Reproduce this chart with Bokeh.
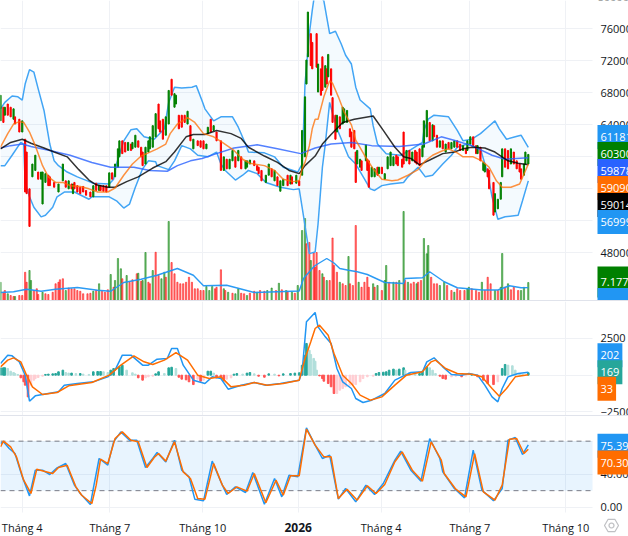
import math
from bokeh.embed import file_html
from bokeh.layouts import column
from bokeh.models import FixedTicker, Label, Range1d, BoxAnnotation, Spacer, PolyAnnotation
from bokeh.plotting import figure
from bokeh.resources import INLINE

# All prices below are in hundreds of VND; x values are trading-session numbers.
candle_session = [0,2,3,5,7,9,10,13,15,17,18,20,22,24,26,28,29,31,33,34,37,40,43,45,47,49,50,51,53,55,57,59,62,64,66,68,69,71,73,75,77,79,81,82,84,86,88,90,91,93,95,97,98,100,102,103,105,107,109,110,112,114,116,118,120,121,123,125,127,129,131,133,136,138,140,142,143,145,147,149,152,154,156,158,160,162,164,166,169,170,172,175,177,178,180,183,185,187,189,191,193,195,198,200,201,204,206,208,210,211,212,214,215,
    218,219,221,222,224,225,226,228,229,231,232,234,236,237,239,241,242,244,245,246,248,249,252,253,254,256,258,260,261,263,265,267,269,271,273,274,277,278,280,282,284,286,287,289,291,292,294,296,298,299,301,303,305,307,309,311,313,315,317,319,321,322,324,326,328,329,331,333,334,336,337,340,341,343,345,346,348,350,352,354,356,358,359,361,362,364]
candle_open = [645,662,652,666,662,647,650,647,631,622,606,560,575,583,581,572,541,568,577,575,568,556,570,570,560,566,554,568,564,562,563,558,556,550,567,558,564,564,564,562,580,575,587,600,620,618,608,616,610,612,620,612,606,591,606,610,612,625,666,645,647,627,641,697,662,666,652,652,652,641,639,610,620,620,620,610,629,647,633,631,620,583,597,585,595,600,595,600,585,587,591,595,589,587,583,568,577,585,570,575,557,564,577,566,575,567,570,577,600,691,725,754,743,
    754,681,710,725,687,710,700,710,674,652,631,650,641,643,643,635,631,633,606,591,587,595,595,597,595,575,575,587,579,587,572,585,589,589,602,600,597,631,595,608,595,608,606,610,600,612,625,643,620,639,627,612,620,606,618,610,612,620,616,608,610,608,616,625,614,604,612,583,581,585,583,568,531,535,547,575,610,608,591,606,595,591,585,577,591,591]
candle_close = [677,643,662,652,650,660,641,631,645,556,554,513,591,602,572,581,581,579,564,564,562,566,591,562,570,560,566,560,556,554,556,552,550,564,558,564,558,557,556,580,572,591,610,620,604,606,618,608,618,627,612,600,589,612,620,625,639,654,635,631,622,650,683,677,679,677,635,637,643,657,620,622,614,612,610,616,637,631,639,620,583,600,585,597,608,587,608,585,595,595,596,589,583,579,570,577,591,575,583,564,570,572,564,577,566,577,564,633,675,721,781,714,710,
    712,716,677,683,714,691,728,677,643,622,652,635,662,660,658,625,612,610,568,608,597,583,615,583,562,587,585,577,587,579,579,600,606,600,591,589,587,591,608,591,606,593,591,589,614,645,658,620,640,625,612,620,610,616,610,618,620,612,608,614,604,620,625,614,604,614,595,593,591,575,560,527,554,547,568,610,587,585,610,591,585,581,572,591,606,603]

volume_session = [0,2,3,5,7,9,10,13,15,17,18,20,21,23,25,26,29,31,33,36,38,40,41,43,45,47,49,51,53,55,57,60,62,64,66,68,70,72,74,76,78,79,81,83,84,87,89,91,94,95,97,98,100,102,103,105,107,109,111,113,114,116,118,120,122,124,126,128,130,132,134,136,138,140,142,144,146,148,149,152,154,155,157,160,162,164,166,168,170,172,175,177,179,182,184,187,190,192,194,197,198,201,203,205,208,210,211,213,214,216,
    217,218,220,222,223,225,227,229,230,232,234,236,238,240,241,243,245,247,249,251,253,254,257,258,260,263,265,266,268,271,273,275,278,279,281,283,285,287,288,290,292,294,295,297,299,301,303,306,308,311,313,315,317,320,322,323,325,328,330,332,334,336,338,341,343,345,346,348,350,352,354,357,359,361,364]
volume_millions = [7.3,3.3,4,2.7,2,1.6,1.6,2,2,11.3,7.3,12,8,4,4.7,2.4,3.3,2.7,2.4,3.3,6.7,7.3,8.3,8.7,4,5,4.7,4.7,4,3.7,2.7,2.7,2.9,3.7,4,6.7,3.7,3.3,4.3,10.4,5.3,8,16.8,12.7,8.7,10,7.3,8.3,10.7,10.9,7.7,8,19.2,7.3,6.7,12,19.3,10,8.7,11.3,9.3,31.6,15.2,10.7,7.3,6.7,6.7,7.3,9.3,7.3,4.7,4.7,4,4,5.6,4,5.6,4.7,5.3,12.3,4.7,4,3.3,2.9,2.7,4.7,2.9,2.7,2,2.9,3.7,3.3,4,3.7,4,5,4,6.9,4.3,4,3.7,3.3,2.9,6,28,32.8,22.7,23.2,16,19,
    13.3,19.2,12,10.7,9.3,8,8,25,14,11.3,7.3,6.7,6,17.6,6.7,6,30,7.3,5.3,7.3,9.3,5.3,6.7,5.3,6,4,8,14,7.3,7.3,7.3,8,35.6,8,7.3,6.7,7.3,6.7,7.3,8,24.8,18.7,22,9.3,6.7,6.7,6,7.3,6,4,3.3,4.7,4,4,4.7,5.3,4.7,4,3.3,7.3,4,9.3,6.7,4,4,5.3,18.8,5.3,6.7,4.3,5.3,4,4,5.3,7.177]
volume_green_sessions = [0,5,10,20,21,29,45,64,68,76,79,81,83,87,95,98,100,105,111,113,116,142,144,146,154,157,162,164,170,177,184,187,192,197,201,205,208,210,214,
    222,225,234,240,247,257,260,265,266,271,275,278,281,287,292,294,295,303,306,313,322,323,332,341,345,346,350,359,361,364]

volume_ma_session = [0,9,18,28,38,53,67,76,85,97,108,122,133,140,156,175,191,206,209,215,217,225,230,234,240,246,253,265,278,279,291,296,306,315,332,343,351,359,364]
volume_ma = [3.2,3.5,4.5,3.7,4.5,5.2,4.1,3.7,7.2,8.5,10.1,12.8,10.1,5.9,6.1,3.2,3.5,3.8,8.8,12.8,14,16.8,15,12.8,12.1,11.5,10.4,7.2,6.8,8.8,9.1,11.5,7.5,5.1,4.2,4.2,5.9,5.1,5.14]

bb_upper_session = [0,3,8,12,15,17,20,23,26,30,34,37,40,46,53,60,64,75,78,80,85,90,94,99,106,113,116,120,125,132,135,139,141,147,152,160,164,169,171,182,189,195,205,208,209,210,213,215,217,223,227,231,235,238,242,245,248,255,257,260,266,276,283,291,292,295,299,309,315,319,325,331,336,341,344,349,355,359,364]
bb_upper = [660,668,676,675,671,691,709,706,685,658,616,595,589,581,575,570,567,566,572,591,620,634,635,625,622,635,668,687,686,687,689,670,660,645,650,650,637,616,606,605,600,587,581,591,637,691,754,783,808,795,754,757,741,727,716,687,671,660,639,616,604,602,609,618,633,647,652,650,633,620,622,629,637,645,635,622,625,627,611.81]
bb_lower_session = [0,3,8,14,16,17,20,23,28,31,36,39,44,51,61,63,75,80,85,89,93,98,102,107,108,116,120,125,131,136,143,149,152,155,162,167,171,177,183,193,202,206,208,213,217,219,222,224,227,229,233,240,245,255,258,263,269,278,281,288,293,298,305,311,315,322,331,336,339,343,348,357,360,364]
bb_lower = [589,589,602,618,616,568,550,537,525,527,537,550,556,556,547,550,550,545,536,541,562,585,595,594,589,584,595,614,610,602,600,606,591,583,571,577,583,579,568,562,559,560,537,479,481,516,587,616,668,654,631,600,591,560,558,564,566,568,575,587,575,577,591,602,612,616,610,579,550,522,525,527,545,569.99]

ma_orange_session = [0,5,9,13,16,20,24,29,33,38,43,48,55,61,67,74,79,85,91,97,102,108,114,117,122,129,134,140,147,153,161,167,172,182,189,195,202,206,208,210,213,215,217,219,223,227,229,233,237,242,245,251,257,263,270,274,281,288,293,298,304,309,315,319,326,332,337,342,346,352,358,364]
ma_orange = [612,629,641,644,643,631,614,589,575,568,568,564,563,560,556,556,561,577,591,601,605,610,616,629,641,649,643,629,625,618,608,597,592,589,583,572,569,570,585,593,614,635,647,647,675,695,692,675,656,640,621,602,585,572,570,571,577,584,595,602,607,610,605,600,600,595,587,570,562,562,566,590.9]
ma_black_session = [0,7,15,21,30,37,46,54,61,66,74,79,87,95,105,114,120,128,133,141,149,159,166,171,182,191,199,206,210,217,222,228,236,244,257,264,272,278,283,289,296,305,313,319,325,334,341,350,357,364]
ma_black = [610,618,622,617,611,606,600,584,571,565,562,562,569,575,586,594,606,625,628,628,633,629,623,612,601,593,583,579,589,601,616,628,643,647,651,633,612,600,598,590,596,604,606,610,612,611,606,595,592,590.14]
ma_blue_session = [0,7,15,21,34,48,63,76,92,103,115,122,131,139,149,161,177,191,207,217,228,242,256,275,292,304,314,325,339,348,364]
ma_blue = [611,614,616,613,608,602,593,587,587,583,582,589,595,598,604,611,615,610,604,611,616,618,614,613,616,625,620,614,602,597,598.78]

macd_session = [0,5,8,13,17,20,24,29,40,44,53,64,74,79,84,90,98,102,108,115,118,122,126,133,141,146,152,157,166,175,183,193,206,208,211,217,219,224,228,232,236,242,245,250,256,265,272,278,283,291,294,299,305,311,318,323,329,334,339,343,346,350,357,364]
macd_line = [795,1362,1317,908,0,-1771,-1407,-1317,-1135,-681,-568,-454,-114,340,1362,1362,681,681,1090,1135,1816,1816,681,-340,-568,-114,-227,-953,-681,-499,-681,-568,-340,227,3632,4268,3292,2610,2157,454,-454,-908,-1589,-1861,-1703,-1249,-340,-45,182,227,908,1180,568,45,0,114,0,-681,-1476,-1816,-908,-114,114,202]
signal_session = [0,5,9,14,18,22,29,39,47,63,75,83,92,99,105,113,121,129,136,144,152,159,168,175,184,195,206,210,214,217,220,226,230,236,242,248,255,263,272,280,291,297,300,307,315,325,332,339,344,349,355,364]
signal_line = [568,1022,1180,908,0,-795,-1317,-1180,-726,-499,0,681,1317,908,726,1022,1544,1022,0,-227,-114,-795,-681,-499,-681,-568,-340,1135,2270,3178,3405,2724,1476,0,-568,-1362,-1703,-1476,-681,0,227,908,1022,454,114,68,-114,-908,-1430,-908,-114,33]
hist_session = [0,2,3,5,7,9,10,12,14,16,17,19,21,23,24,26,29,31,33,36,38,40,43,45,47,49,52,55,57,61,64,67,69,71,74,76,78,82,84,87,91,93,95,98,100,102,105,107,109,113,116,118,121,123,125,128,130,133,136,138,140,143,145,147,149,152,154,156,159,161,163,167,170,172,175,178,182,185,189,192,195,200,203,206,208,210,211,213,214,216,
    217,218,220,222,223,226,228,230,232,234,236,238,241,243,245,248,250,253,257,259,261,264,266,268,271,273,275,278,279,282,286,289,291,294,296,298,300,303,305,307,311,314,318,321,325,329,333,336,340,343,346,348,350,353,355,358,360,364]
hist_values = [500,500,500,450,270,180,110,50,-180,-450,-680,-1480,-680,-340,-230,-160,-70,50,70,90,110,230,340,180,140,140,110,110,70,50,230,250,250,230,180,340,450,570,680,340,160,70,-180,-340,-180,-110,-70,90,230,110,500,540,450,-140,-270,-320,-450,-640,-270,-410,-340,270,270,140,-180,-230,-390,-270,-180,70,110,70,140,180,90,-70,-140,90,70,-50,90,110,140,160,680,1360,2160,1700,1410,1140,
    950,340,-50,-230,-410,-570,-790,-1250,-1250,-1020,-910,-790,-680,-680,-640,-450,-230,-110,-70,110,180,200,230,340,410,340,410,500,340,180,110,110,270,570,500,340,110,-70,-230,-270,-110,-70,-110,-50,50,-110,-340,-570,-640,-450,450,730,680,640,340,90,50,169]

stoch_k_session = [0,2,6,10,15,20,24,29,34,39,45,51,55,62,64,68,74,78,83,89,94,100,105,108,114,120,125,130,134,140,146,152,156,162,169,174,182,189,194,199,205,211,217,222,227,233,238,245,252,258,264,272,276,283,290,296,303,305,313,320,326,332,340,346,350,355,360,364]
stoch_k = [77.2,79.2,71.1,65,36.8,13.7,44.8,44.8,39.6,47.7,52.9,26.7,16.6,3.2,22.6,59,50.9,79.2,91.3,81.2,81.2,48.1,59,66.3,54.9,81.2,44.8,36.8,9.7,7.7,55.8,30.7,15.4,24.6,17.8,42,3.6,34.7,12.5,38.8,36.8,96.2,75.2,59,63,9.7,22.6,6.5,26.7,15.4,28.7,57,67.9,44.8,31.5,83.2,59,42.8,22.6,11.3,69.1,20.6,7.7,22.6,81.2,84.4,63.8,75.39]
stoch_d_session = [0,2,7,11,16,21,25,30,36,40,46,52,56,63,66,69,74,79,84,90,95,101,106,109,114,120,126,131,136,141,147,153,157,163,170,175,183,190,195,200,206,211,217,223,228,233,239,246,253,259,265,272,277,284,291,297,304,306,314,321,327,333,341,346,351,356,361,364]
stoch_d = [73.1,80,73.1,61,32.7,16.6,46,43.6,40.8,48.1,50.9,24.6,14.5,4.4,26.7,58.2,52.9,83.2,91.3,81.2,79.2,48.1,60.2,65,55.8,79.2,42.8,34.7,10.5,9.7,52.9,26.7,16.6,24.6,19.4,40.8,5.3,32.7,14.5,38,38,94.5,75.2,61,61,10.5,21.8,8.5,25.9,16.6,27.5,55,67,44.8,31.5,79.2,57,40.8,21.8,12.5,65,18.6,8.5,26.7,82.4,83.2,65,70.3]

time_ticks = [15, 75.4, 139.5, 205.3, 262.5, 323.7, 389.9]
time_labels = ["Tháng 4", "Tháng 7", "Tháng 10", "2026", "Tháng 4", "Tháng 7", "Tháng 10"]
year_label = "2026"
price_ticks = [48000, 52000, 56000, 60000, 64000, 68000, 72000, 76000]
macd_ticks = [-2500, 0, 2500]
macd_tick_labels = ["−2500", "0", "2500"]
stoch_ticks = [0, 40, 80]
stoch_tick_labels = ["0.00", "40.00", "80.00"]

FONT = "Open Sans"
TEXT = "#131722"
GRID = "#eff1f5"
GREEN, RED = "#008000", "#ff0000"
SPX = 1.45
XEND = 592 / SPX
XMAX = 628 / SPX
x_range = Range1d(0, XMAX)


def pane(h, y0, y1, ticks, labels):
    p = figure(width=628, height=h, frame_width=628, frame_height=h,
               x_range=x_range, y_range=Range1d(y0, y1), y_axis_location="right",
               tools="", toolbar_location=None, output_backend="svg", min_border=0,
               outline_line_color=None, background_fill_color="white", border_fill_color="white")
    p.xaxis.visible = False
    p.yaxis.ticker = FixedTicker(ticks=ticks)
    p.yaxis.major_label_overrides = {t: l for t, l in zip(ticks, labels)}
    p.yaxis.axis_line_color = None
    p.yaxis.major_tick_line_color = None
    p.yaxis.minor_tick_line_color = None
    p.yaxis.major_label_standoff = -34
    p.yaxis.major_label_text_font = FONT
    p.yaxis.major_label_text_font_size = "11px"
    p.yaxis.major_label_text_color = TEXT
    p.ygrid.ticker = FixedTicker(ticks=ticks)
    p.xgrid.ticker = FixedTicker(ticks=time_ticks)
    p.grid.grid_line_color = GRID
    p.grid.grid_line_width = 1
    # the grid stops where the price scale starts
    p.add_layout(BoxAnnotation(left=XEND, fill_color="white", fill_alpha=1, line_color=None, level="underlay"))
    return p


def tag(p, y, text, color):
    p.add_layout(Label(x=XEND, y=y, x_offset=5, text=text, text_color="white", text_font=FONT,
                       text_font_size="11px", text_baseline="middle", text_align="left",
                       background_fill_color=color, padding=(3, 8)))


# ---------- price pane ----------
P_TOP = 79542
P_BOT = 42041
main = pane(300, P_BOT, P_TOP, price_ticks, [str(t) for t in price_ticks])
main.extra_y_ranges = {"vol": Range1d(0, 120)}

vc = [GREEN if s in volume_green_sessions else RED for s in volume_session]
main.vbar(x=volume_session, top=volume_millions, bottom=0, width=0.85, color=vc, alpha=0.5,
          y_range_name="vol")
main.line(volume_ma_session, volume_ma, color="#2196f3", line_width=1.4, alpha=0.95, y_range_name="vol")

px = [v for v in bb_upper_session] + bb_lower_session[::-1]
py = [v * 100 for v in bb_upper] + [v * 100 for v in bb_lower[::-1]]
main.patch(px, py, fill_color="#2196f3", fill_alpha=0.05, line_color=None)
main.line(bb_upper_session, [v * 100 for v in bb_upper], color="#42a5f5", line_width=1.5)
main.line(bb_lower_session, [v * 100 for v in bb_lower], color="#42a5f5", line_width=1.5)

ccol = [GREEN if c >= o else RED for o, c in zip(candle_open, candle_close)]
main.vbar(x=candle_session, top=[max(o, c) * 100 for o, c in zip(candle_open, candle_close)],
          bottom=[min(o, c) * 100 for o, c in zip(candle_open, candle_close)],
          width=0.8, color=ccol)
main.line(ma_blue_session, [v * 100 for v in ma_blue], color="#2962ff", line_width=1.5, alpha=0.8)
main.line(ma_black_session, [v * 100 for v in ma_black], color="#000000", line_width=1.5, alpha=0.8)
main.line(ma_orange_session, [v * 100 for v in ma_orange], color="#ff6d00", line_width=1.5, alpha=0.75)

main.add_layout(Label(x=XEND, y=80000, text="80000", x_offset=5, text_font=FONT, text_font_size="11px",
                      text_color=TEXT, text_baseline="middle"))
tag(main, 62479, "61181", "#2196f3")
tag(main, 60354, "60300", "#008000")
tag(main, 58229, "59878", "#2962ff")
tag(main, 56104, "59090", "#ff6d00")
tag(main, 53979, "59014", "#000000")
tag(main, 51854, "56999", "#2196f3")
tag(main, 44354, "7.177M", "#008000")
tag(main, 41666, "5.14M", "#2196f3")

# ---------- MACD pane ----------
macd = pane(114, -2746, 5017, macd_ticks, macd_tick_labels)
hcol = []
prev = 0
for v in hist_values:
    if v >= 0:
        hcol.append("#26a69a" if v >= prev else "#b2dfdb")
    else:
        hcol.append("#ffcdd2" if v >= prev else "#ff5252")
    prev = v
macd.vbar(x=hist_session, top=hist_values, bottom=0, width=1.1, color=hcol)
macd.line(macd_session, macd_line, color="#2196f3", line_width=1.5)
macd.line(signal_session, signal_line, color="#ff6d00", line_width=1.5)
tag(macd, 1360, "202", "#2196f3")
tag(macd, 202, "169", "#26a69a")
tag(macd, -930, "33", "#ff6d00")

# ---------- Stochastic pane (frame runs down over the time scale) ----------
S_BOT = -35.55
stoch = pane(120, S_BOT, 109.9, stoch_ticks, stoch_tick_labels)
stoch.add_layout(BoxAnnotation(top=-6.46, fill_color="white", fill_alpha=1, line_color=None, level="underlay"))
stoch.add_layout(BoxAnnotation(left=0, right=XEND, bottom=20, top=80, fill_color="#2196f3", fill_alpha=0.1,
                               line_color=None, level="underlay"))
for lv in (20, 80):
    stoch.line([0, XEND], [lv, lv], color="#787b86", line_width=1, line_dash="5 4")
stoch.line(stoch_k_session, stoch_k, color="#2196f3", line_width=1.5)
stoch.line(stoch_d_session, stoch_d, color="#ff6d00", line_width=1.5)
tag(stoch, 74.4, "75.39", "#2196f3")
tag(stoch, 54.1, "70.30", "#ff6d00")

LABEL_Y = -24.6
for t, l in zip(time_ticks, time_labels):
    stoch.add_layout(Label(x=t, y=LABEL_Y, text=l, text_font=FONT,
                           text_font_size="12px" if l == year_label else "11px",
                           text_font_style="bold" if l == year_label else "normal",
                           text_color=TEXT, text_align="center", text_baseline="middle"))

# settings icon, bottom right
cx, cy = 611, 11
for r, step in ((7, 60), (2.5, 30)):
    xs = [cx + r * math.cos(math.radians(a)) for a in range(0, 360, step)]
    ys = [cy + r * math.sin(math.radians(a)) for a in range(0, 360, step)]
    stoch.add_layout(PolyAnnotation(xs=xs, ys=ys, xs_units="screen", ys_units="screen",
                                    fill_alpha=0, line_color="#2a2e39", line_width=1.2))

sep1 = Spacer(width=628, height=1, styles={"background": "#e0e3eb"}, margin=0)
sep2 = Spacer(width=628, height=1, styles={"background": "#e0e3eb"}, margin=0)
for f in (main, macd, stoch):
    f.margin = 0
page = column(main, sep1, macd, sep2, stoch, spacing=0, margin=0)
open("out.html", "w").write(file_html(page, INLINE))
